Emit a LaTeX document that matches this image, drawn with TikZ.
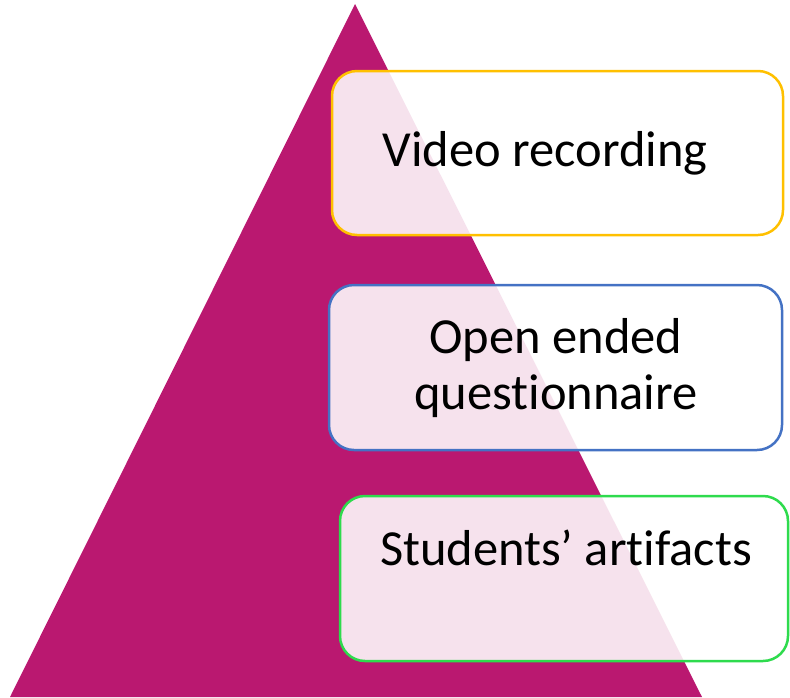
\documentclass[tikz,border=0pt]{standalone}
\usepackage{fontspec}
\setmainfont[Ligatures=NoCommon]{Carlito}
\definecolor{tri}{HTML}{BA1870}
\definecolor{cOrange}{HTML}{FFC000}
\definecolor{cBlue}{HTML}{4472C4}
\definecolor{cGreen}{HTML}{2EDB4D}
\begin{document}
\begin{tikzpicture}[x=1pt,y=-1pt,
  card/.style={draw, line width=2.5pt, rounded corners=25pt, fill=white, fill opacity=0.88, text opacity=1},
  lbl/.style={font=\fontsize{50.5}{56}\selectfont, align=center, text=black}]
\useasboundingbox (0,0) rectangle (790,697);
\fill[tri] (355,4) coordinate (apex) -- (702,697) coordinate (br) -- (10,697) coordinate (bl) -- cycle;
\path[card, draw=cOrange] (332,71) rectangle (783,235);
\path[card, draw=cBlue] (329,285) rectangle (782,450);
\path[card, draw=cGreen] (340,496) rectangle (788,661);
\node[lbl] (t1) at (545,153) {Video recording};
\node[lbl] (t2) at (556,368) {Open ended\\questionnaire};
\node[lbl] (t3) at (566,548) {Students’ artifacts};
\end{tikzpicture}
\end{document}
